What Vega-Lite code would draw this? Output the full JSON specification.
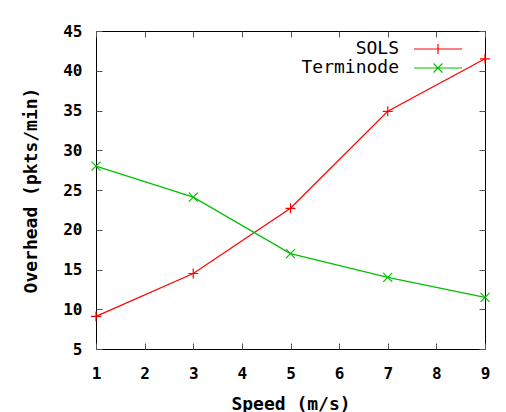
{
  "$schema": "https://vega.github.io/schema/vega-lite/v6.json",
  "width": 389,
  "height": 318,
  "autosize": {"type": "none"},
  "padding": {"left": 96, "top": 31, "right": 21, "bottom": 63},
  "background": "white",
  "config": {
    "view": {"stroke": "#000000", "strokeWidth": 1},
    "font": "DejaVu Sans Mono"
  },
  "data": {
    "values": [
      {"series": "SOLS", "speed": 1, "overhead": 9.1},
      {"series": "SOLS", "speed": 3, "overhead": 14.5},
      {"series": "SOLS", "speed": 5, "overhead": 22.7},
      {"series": "SOLS", "speed": 7, "overhead": 34.9},
      {"series": "SOLS", "speed": 9, "overhead": 41.5},
      {"series": "Terminode", "speed": 1, "overhead": 28.0},
      {"series": "Terminode", "speed": 3, "overhead": 24.1},
      {"series": "Terminode", "speed": 5, "overhead": 17.0},
      {"series": "Terminode", "speed": 7, "overhead": 14.0},
      {"series": "Terminode", "speed": 9, "overhead": 11.5}
    ]
  },
  "layer": [
    {
      "mark": {"type": "line", "strokeWidth": 1.2, "clip": false},
      "encoding": {
        "x": {
          "field": "speed", "type": "quantitative",
          "scale": {"domain": [1, 9], "nice": false},
          "axis": {
            "orient": "bottom", "values": [1, 2, 3, 4, 5, 6, 7, 8, 9], "format": "d",
            "grid": false, "domain": false, "ticks": false,
            "labelFont": "DejaVu Sans Mono", "labelFontWeight": "bold", "labelFontSize": 16, "labelColor": "#000000",
            "labelPadding": 16, "labelFlush": false,
            "title": "Speed (m/s)", "titleFont": "DejaVu Sans Mono", "titleFontSize": 18, "titleFontWeight": "bold",
            "titleColor": "#000000", "titlePadding": 14
          }
        },
        "y": {
          "field": "overhead", "type": "quantitative",
          "scale": {"domain": [5, 45], "nice": false},
          "axis": {
            "orient": "left", "values": [5, 10, 15, 20, 25, 30, 35, 40, 45],
            "grid": false, "domain": false, "ticks": false,
            "labelFont": "DejaVu Sans Mono", "labelFontWeight": "bold", "labelFontSize": 16, "labelColor": "#000000",
            "labelPadding": 14, "labelFlush": false,
            "title": "Overhead (pkts/min)", "titleFont": "DejaVu Sans Mono", "titleFontSize": 18, "titleFontWeight": "bold",
            "titleColor": "#000000", "titlePadding": 22
          }
        },
        "color": {
          "field": "series", "type": "nominal",
          "scale": {"domain": ["SOLS", "Terminode"], "range": ["#ff0000", "#00c000"]},
          "legend": {
            "title": null,
            "orient": "none",
            "legendX": 333,
            "legendY": 9,
            "symbolSize": 100,
            "symbolStrokeWidth": 1.2,
            "labelFont": "DejaVu Sans Mono",
            "labelFontSize": 18,
            "labelColor": "#000000",
            "labelAlign": "right",
            "labelOffset": -48,
            "rowPadding": 1,
            "encode": {
              "symbols": {
                "update": {
                  "shape": {"signal": "datum.value === 'SOLS' ? 'M-4.8,0L4.8,0M0,-1L0,1' : 'M-4.8,0L4.8,0M-0.9,-0.9L0.9,0.9M-0.9,0.9L0.9,-0.9'"},
                  "fill": {"value": "transparent"}
                }
              }
            }
          }
        }
      }
    },
    {
      "transform": [{"filter": "datum.series === 'SOLS'"}],
      "mark": {"type": "point", "filled": false, "strokeWidth": 1.2, "size": 100, "opacity": 1, "clip": false, "color": "#ff0000", "shape": "M-1,0L1,0M0,-1L0,1"},
      "encoding": {
        "x": {"field": "speed", "type": "quantitative", "axis": null},
        "y": {"field": "overhead", "type": "quantitative", "axis": null}
      }
    },
    {
      "transform": [{"filter": "datum.series === 'Terminode'"}],
      "mark": {"type": "point", "filled": false, "strokeWidth": 1.2, "size": 100, "opacity": 1, "clip": false, "color": "#00c000", "shape": "M-0.9,-0.9L0.9,0.9M-0.9,0.9L0.9,-0.9"},
      "encoding": {
        "x": {"field": "speed", "type": "quantitative", "axis": null},
        "y": {"field": "overhead", "type": "quantitative", "axis": null}
      }
    },
    {
      "mark": {"type": "point", "opacity": 0},
      "encoding": {
        "x": {
          "field": "speed", "type": "quantitative",
          "axis": {"orient": "top", "offset": -318, "values": [1, 2, 3, 4, 5, 6, 7, 8, 9], "labels": false, "grid": false, "domain": false, "tickSize": 6, "tickColor": "#555555", "title": null}
        },
        "y": {
          "field": "overhead", "type": "quantitative",
          "axis": {"orient": "right", "offset": -389, "values": [5, 10, 15, 20, 25, 30, 35, 40, 45], "labels": false, "grid": false, "domain": false, "tickSize": 6, "tickColor": "#555555", "title": null}
        }
      }
    },
    {
      "mark": {"type": "point", "opacity": 0},
      "encoding": {
        "x": {
          "field": "speed", "type": "quantitative",
          "axis": {"orient": "bottom", "offset": -318, "values": [1, 2, 3, 4, 5, 6, 7, 8, 9], "labels": false, "grid": false, "domain": false, "tickSize": 6, "tickColor": "#555555", "title": null}
        },
        "y": {
          "field": "overhead", "type": "quantitative",
          "axis": {"orient": "left", "offset": -389, "values": [5, 10, 15, 20, 25, 30, 35, 40, 45], "labels": false, "grid": false, "domain": false, "tickSize": 6, "tickColor": "#555555", "title": null}
        }
      }
    }
  ],
  "resolve": {"axis": {"x": "independent", "y": "independent"}}
}
